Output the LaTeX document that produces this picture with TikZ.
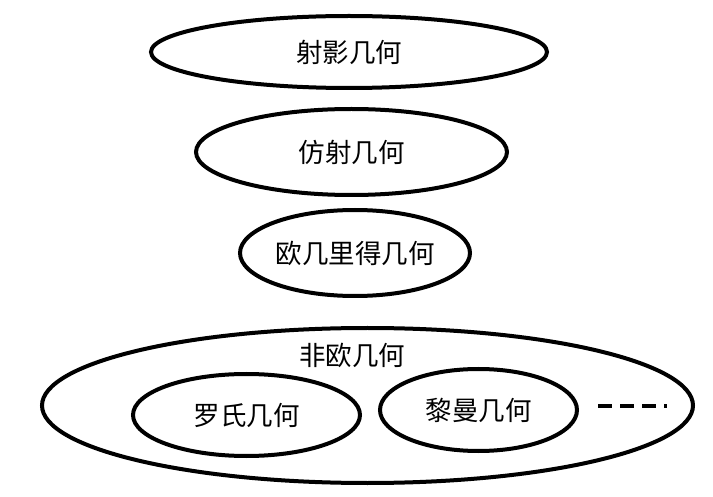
\documentclass[tikz,border=0pt]{standalone}
\usepackage{fontspec}
\newfontfamily\cjk{Noto Sans CJK SC}
\usetikzlibrary{shapes.geometric, positioning}

\begin{document}
\begin{tikzpicture}[
    x=1pt, y=-1pt, % Pixel-like units, y grows downwards
    geom/.style={ellipse, draw, line width=4pt, inner sep=0pt, font=\cjk\fontsize{26.5}{30}\selectfont}, % Style for the geometry ellipses
    label/.style={font=\cjk\fontsize{26.5}{30}\selectfont}, % Style for free labels
    etc/.style={line width=4pt, dash pattern=on 14pt off 8pt} % Style for the dashed "more" line
]
    \useasboundingbox (0,0) rectangle (713,497);

    % Stacked geometries
    \node[geom, minimum width=396pt, minimum height=72pt] (proj)   at (349,52)    {射影几何};
    \node[geom, minimum width=311pt, minimum height=86pt] (affine) at (351.5,152) {仿射几何};
    \node[geom, minimum width=230pt, minimum height=86pt] (eucl)   at (355,253)   {欧几里得几何};

    % Non-Euclidean family
    \node[geom, minimum width=651pt, minimum height=155pt] (noneucl) at (367.5,405.5) {};
    \node[label] (noneucltext) at (352,355) {非欧几何};
    \node[geom, minimum width=227pt, minimum height=82pt] (lobach)  at (246.5,415) {罗氏几何};
    \node[geom, minimum width=197pt, minimum height=82pt] (riemann) at (478.5,410) {黎曼几何};

    % And so on
    \coordinate (dotsA) at (598,406);
    \coordinate (dotsB) at (667,406);
    \draw[etc] (dotsA) -- (dotsB);

\end{tikzpicture}
\end{document}
